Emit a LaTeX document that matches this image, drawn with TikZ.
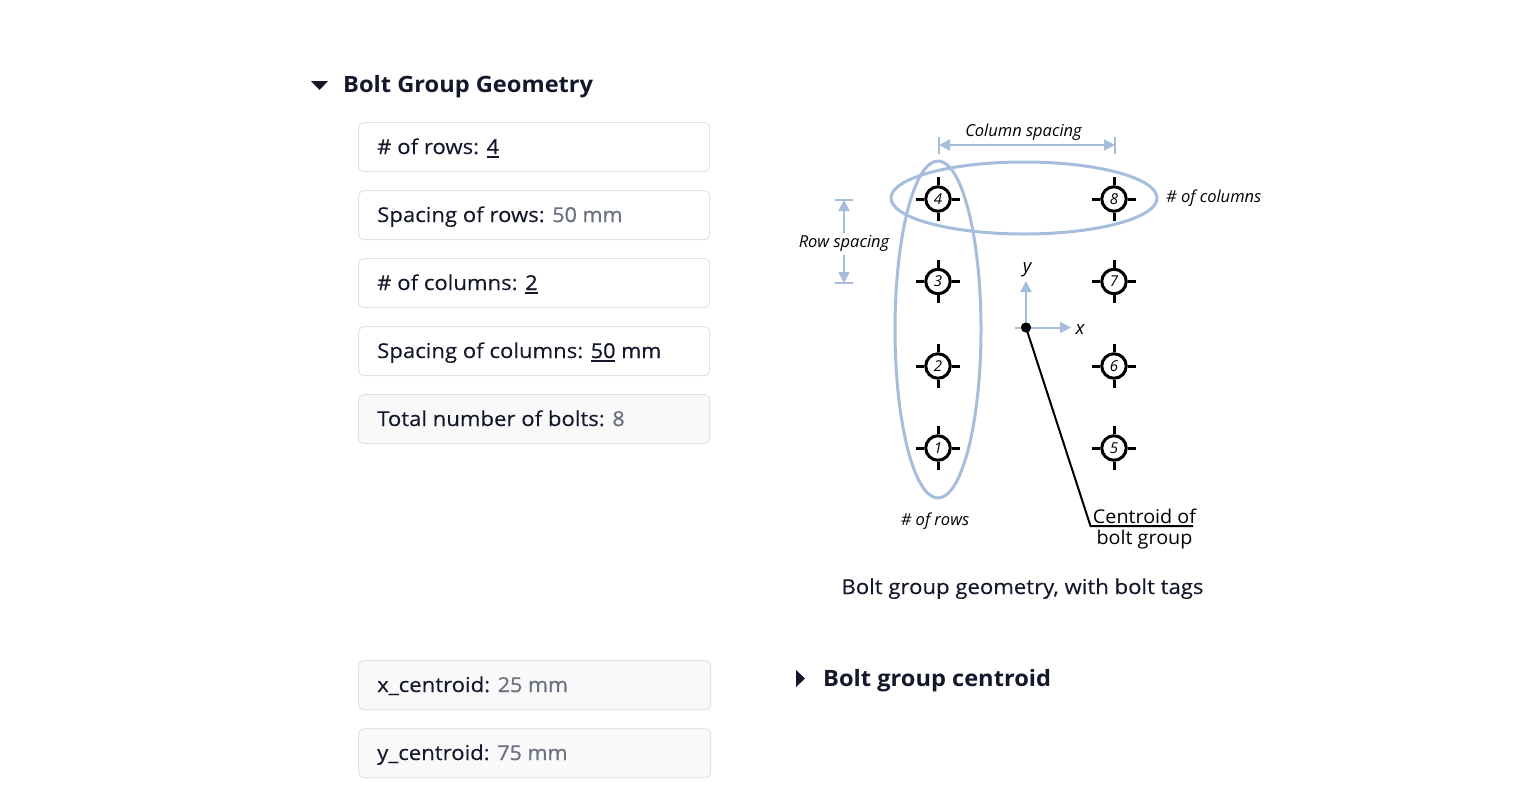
\documentclass[tikz,border=0pt]{standalone}
\usepackage{fontspec}
\usetikzlibrary{arrows.meta}
\setmainfont{Open Sans}
\newfontfamily\uifont[FakeStretch=1.08,FakeBold=0.12]{Open Sans}
\newfontfamily\valfont[FakeStretch=1.05,FakeBold=0.9]{Open Sans}
\newfontfamily\headfont[FakeStretch=1.05]{Open Sans}
\newfontfamily\tagfont{Open Sans}
\newfontfamily\capfont[FakeStretch=1.04]{Open Sans}
\definecolor{ink}{HTML}{14182C}
\definecolor{mute}{HTML}{6B7280}
\definecolor{edge}{HTML}{E2E3E6}
\definecolor{soft}{HTML}{F9F9FA}
\definecolor{blue}{HTML}{A6BDDC}
\newcommand{\ubar}[1]{\setbox0\hbox{\valfont #1}\rlap{\rule[-4pt]{\wd0}{2pt}}\box0\relax}
\newcommand{\dimval}[1]{\textcolor{mute}{\valfont #1}}
\newcommand{\boltmark}[4]{%
  \node[boltring] (#1) at (#2,#3) {\tagfont\itshape\fontsize{15}{15}\selectfont #4};
  \draw[bolttick] (#1.north) -- ++(0,-8);
  \draw[bolttick] (#1.south) -- ++(0,8);
  \draw[bolttick] (#1.west) -- ++(-8,0);
  \draw[bolttick] (#1.east) -- ++(8,0);
}
\tikzset{
  x=1pt,y=-1pt,
  field/.style={draw=edge,line width=1pt,rounded corners=5pt,fill=white,minimum height=49pt,anchor=north west,inner sep=0pt},
  fieldro/.style={field,fill=soft},
  fieldtext/.style={anchor=base west,inner sep=0pt,text=ink,font=\uifont\fontsize{20.5}{24}\selectfont},
  heading/.style={anchor=base west,inner sep=0pt,text=ink,font=\headfont\bfseries\fontsize{22.5}{28}\selectfont},
  tagtext/.style={inner sep=0pt,text=black,font=\tagfont\itshape\fontsize{16.5}{18}\selectfont},
  boltring/.style={circle,draw=black,line width=3pt,fill=white,minimum size=24.5pt,inner sep=0pt},
  bolttick/.style={draw=black,line width=3pt},
  dimline/.style={draw=blue,line width=2pt},
  dimarrow/.style={draw=blue,line width=2pt,-{Triangle[length=11pt,width=11pt]}},
  leader/.style={draw=black,line width=2pt},
}
\begin{document}
\begin{tikzpicture}
\useasboundingbox (0,0) rectangle (1520,798);
\fill[white] (0,0) rectangle (1520,798);

\fill[ink] (311,81) -- (328,81) -- (319.5,90) -- cycle;
\node[heading] (h1) at (343,92) {Bolt Group Geometry};

\node[field,minimum width=351pt] (b1) at (358.2,122.2) {};
\node[field,minimum width=351pt] (b2) at (358.2,190.2) {};
\node[field,minimum width=351pt] (b3) at (358.2,258.2) {};
\node[field,minimum width=351pt] (b4) at (358.2,326.2) {};
\node[fieldro,minimum width=351pt] (b5) at (358.2,394.2) {};
\node[fieldro,minimum width=352pt] (b6) at (358.2,660.2) {};
\node[fieldro,minimum width=352pt] (b7) at (358.2,728.2) {};

\node[fieldtext] (t1) at (377,154) {\# of rows: \ubar{4}};
\node[fieldtext] (t2) at (377,222) {Spacing of rows: \dimval{50 mm}};
\node[fieldtext] (t3) at (377,290) {\# of columns: \ubar{2}};
\node[fieldtext] (t4) at (377,358) {Spacing of columns: \ubar{50} {\valfont mm}};
\node[fieldtext] (t5) at (377,426) {Total number of bolts: \dimval{8}};
\node[fieldtext] (t6) at (377,692) {x\_centroid: \dimval{25 mm}};
\node[fieldtext] (t7) at (377,760) {y\_centroid: \dimval{75 mm}};

\fill[ink] (796,670) -- (805,678.5) -- (796,687) -- cycle;
\node[heading] (h2) at (823,686) {Bolt group centroid};

% ovals
\draw[blue,line width=3pt] (938,329.5) ellipse [x radius=43,y radius=168.5];
\draw[blue,line width=3pt] (1024,198) ellipse [x radius=133,y radius=36];

% bolts
\boltmark{b4m}{938}{199}{4}
\boltmark{b3m}{938}{281.5}{3}
\boltmark{b2m}{938}{366}{2}
\boltmark{b1m}{938}{448}{1}
\boltmark{b8m}{1114}{199}{8}
\boltmark{b7m}{1114}{281.5}{7}
\boltmark{b6m}{1114}{366}{6}
\boltmark{b5m}{1114}{448}{5}

% column spacing
\coordinate (cl) at (939,145);
\coordinate (cr) at (1115,145);
\draw[dimline,line width=1.6pt] (939,137) -- (939,154);
\draw[dimline,line width=1.6pt] (1115,137) -- (1115,154);
\draw[dimarrow] (1027,145) -- (cl);
\draw[dimarrow] (1027,145) -- (cr);
\node[tagtext] (cs) at (1023.5,132.5) {Column spacing};

% row spacing
\coordinate (rt) at (844,200);
\coordinate (rb) at (844,283);
\draw[dimline,line width=1.6pt] (835,200) -- (853,200);
\draw[dimline,line width=1.6pt] (835,283) -- (853,283);
\node[tagtext] (rs) at (844,243.5) {Row spacing};
\draw[dimarrow] (844,233) -- (rt);
\draw[dimarrow] (844,255) -- (rb);

\node[tagtext,anchor=west] (nc) at (1166,198.5) {\# of columns};
\node[tagtext] (nr) at (935,521.5) {\# of rows};

% axes
\coordinate (ax) at (1015,327.5);
\node[circle,fill=black,minimum size=10pt,inner sep=0pt] (cen) at (1026,327.5) {};
\draw[dimarrow] (cen.center) -- (1026,281) coordinate (yend);
\draw[dimarrow] (ax) -- (1071,327.5) coordinate (xend);
\node[circle,fill=black,minimum size=10pt,inner sep=0pt] at (1026,327.5) {};
\node[tagtext,font=\tagfont\itshape\fontsize{18.5}{20}\selectfont] (ylab) at (1027,269.5) {y};
\node[tagtext,font=\tagfont\itshape\fontsize{18.5}{20}\selectfont] (xlab) at (1080,329.5) {x};

% leader
\coordinate (k) at (1090.5,526);
\coordinate (kend) at (1193,526);
\draw[leader] (cen.center) -- (k) -- (kend);
\node[anchor=base,inner sep=0pt,text=black,font=\capfont\fontsize{19}{21}\selectfont] (cl1) at (1144.5,523) {Centroid of};
\node[anchor=base,inner sep=0pt,text=black,font=\capfont\fontsize{19}{21}\selectfont] (cl2) at (1144.5,544) {bolt group};

\node[anchor=base,inner sep=0pt,text=ink,font=\uifont\fontsize{20.5}{24}\selectfont] (cap) at (1022.5,594) {Bolt group geometry, with bolt tags};
\end{tikzpicture}
\end{document}
